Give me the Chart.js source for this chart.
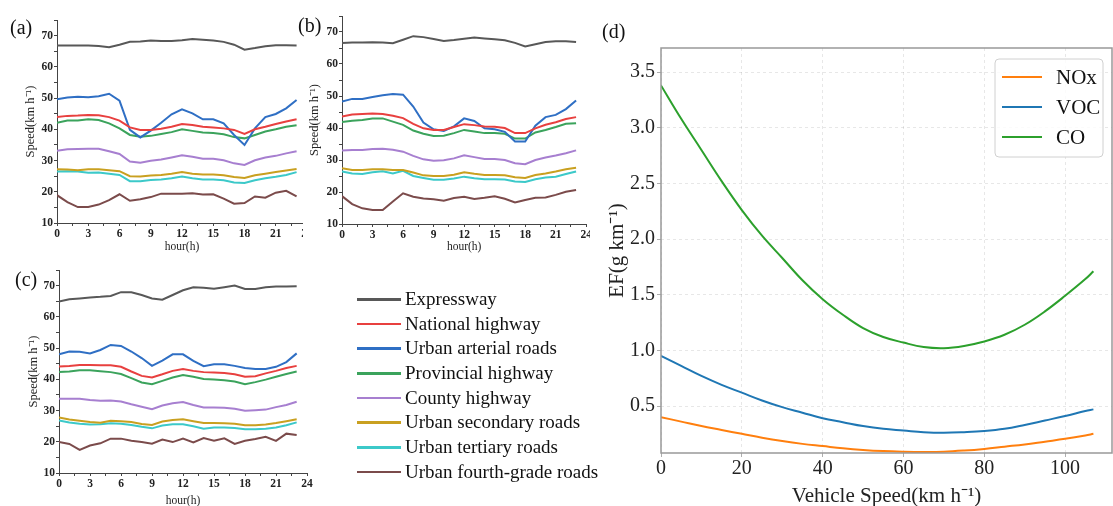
<!DOCTYPE html>
<html>
<head>
<meta charset="utf-8">
<script src="https://cdn.jsdelivr.net/npm/chart.js@4.4.1/dist/chart.umd.min.js"></script>
<style>
  body { margin: 0; background: #fff; width: 1113px; height: 506px; position: relative; overflow: hidden; font-family: 'Liberation Serif', 'Times New Roman', serif; }
  canvas { position: absolute; background: #fff; }
  .tag { position: absolute; font-size: 20px; color: #111; line-height: 20px; z-index: 5; }
  .leg { position: absolute; left: 357px; top: 287px; z-index: 5; }
  .leg div { position: relative; height: 24.7px; font-size: 19px; color: #111; line-height: 24px; padding-left: 48px; white-space: nowrap; }
  .leg span { position: absolute; left: 0; top: 11px; width: 44px; height: 2.5px; }
</style>
</head>
<body>
<canvas id="chartA" width="320" height="262" style="left:0;top:0"></canvas>
<canvas id="chartB" width="290" height="262" style="left:303px;top:0"></canvas>
<canvas id="chartC" width="320" height="244" style="left:0;top:262px"></canvas>
<canvas id="chartD" width="523" height="506" style="left:590px;top:0"></canvas>
<div class="tag" style="left:10px;top:17px">(a)</div>
<div class="tag" style="left:298px;top:15px">(b)</div>
<div class="tag" style="left:15px;top:269px">(c)</div>
<div class="tag" style="left:602px;top:21px">(d)</div>
<div class="leg" id="roadLegend"></div>
<script>
const hours = [0, 1, 2, 3, 4, 5, 6, 7, 8, 9, 10, 11, 12, 13, 14, 15, 16, 17, 18, 19, 20, 21, 22, 23];

const roadNames = ['Expressway', 'National highway', 'Urban arterial roads', 'Provincial highway',
  'County highway', 'Urban secondary roads', 'Urban tertiary roads', 'Urban fourth-grade roads'];
const roadColors = ['#585858', '#e8403f', '#2f6fc4', '#3ba35c', '#a77fd0', '#c9a020', '#3cc9c9', '#7b4b4b'];

// panel (a)
const speedA = [
  [66.8, 66.8, 66.8, 66.8, 66.7, 66.3, 67.1, 68.0, 68.1, 68.4, 68.3, 68.3, 68.5, 68.9, 68.7, 68.4, 68.0, 67.1, 65.5, 66.0, 66.6, 66.9, 66.9, 66.8],
  [43.9, 44.3, 44.4, 44.6, 44.5, 43.9, 42.8, 40.6, 39.8, 39.8, 40.2, 40.8, 41.7, 41.4, 40.8, 40.6, 40.3, 39.8, 38.5, 40.0, 40.8, 41.7, 42.5, 43.2],
  [49.6, 50.2, 50.4, 50.3, 50.6, 51.4, 49.2, 39.8, 37.4, 39.6, 42.1, 44.8, 46.4, 45.1, 43.2, 43.2, 41.9, 38.2, 35.0, 40.3, 43.9, 44.9, 46.7, 49.4],
  [42.1, 42.8, 42.8, 43.2, 43.0, 41.9, 40.3, 38.2, 37.6, 37.9, 38.5, 39.1, 40.0, 39.5, 39.0, 38.8, 38.4, 37.5, 37.1, 38.2, 39.3, 40.0, 40.8, 41.3],
  [33.1, 33.6, 33.7, 33.8, 33.8, 33.0, 32.1, 29.7, 29.3, 29.9, 30.3, 31.0, 31.7, 31.2, 30.6, 30.6, 30.1, 29.1, 28.6, 30.1, 31.0, 31.5, 32.3, 33.0],
  [27.2, 27.1, 26.9, 27.2, 27.2, 26.9, 26.6, 25.0, 24.9, 25.2, 25.4, 25.8, 26.3, 25.8, 25.5, 25.5, 25.3, 24.7, 24.4, 25.3, 25.8, 26.3, 26.8, 27.3],
  [26.5, 26.6, 26.5, 26.1, 26.2, 25.8, 25.4, 23.4, 23.4, 23.8, 23.9, 24.3, 24.9, 24.3, 23.9, 23.9, 23.7, 23.0, 22.8, 23.7, 24.3, 24.8, 25.4, 26.3],
  [18.9, 16.7, 15.1, 15.1, 15.9, 17.3, 19.2, 17.1, 17.6, 18.3, 19.4, 19.4, 19.4, 19.5, 19.1, 19.2, 17.8, 16.2, 16.4, 18.5, 18.1, 19.7, 20.3, 18.5]
];

// panel (b)
const speedB = [
  [66.6, 66.7, 66.7, 66.8, 66.7, 66.5, 67.6, 68.7, 68.4, 67.8, 67.2, 67.5, 67.9, 68.3, 68.0, 67.7, 67.4, 66.6, 65.5, 66.2, 66.9, 67.1, 67.1, 66.9],
  [43.6, 44.2, 44.4, 44.5, 44.4, 43.8, 43.1, 41.3, 39.9, 39.4, 39.4, 40.3, 41.2, 40.9, 40.5, 40.4, 40.0, 38.4, 38.4, 39.9, 41.0, 41.8, 42.8, 43.4],
  [48.3, 49.1, 49.1, 49.7, 50.2, 50.6, 50.4, 46.7, 41.7, 39.6, 39.1, 40.5, 43.0, 42.2, 39.9, 39.6, 38.8, 35.8, 35.8, 40.7, 43.4, 44.1, 45.9, 48.6],
  [41.9, 42.3, 42.5, 43.0, 43.0, 42.0, 41.0, 39.2, 38.2, 37.5, 37.6, 38.4, 39.4, 38.9, 38.4, 38.4, 38.2, 36.7, 36.7, 38.6, 39.4, 40.3, 41.3, 41.5],
  [33.0, 33.1, 33.1, 33.4, 33.5, 33.2, 32.6, 31.3, 30.2, 29.8, 29.9, 30.5, 31.5, 30.9, 30.3, 30.3, 30.0, 29.0, 28.7, 30.0, 30.8, 31.4, 32.1, 33.0],
  [27.4, 26.9, 26.9, 27.1, 27.1, 26.9, 26.9, 26.1, 25.2, 25.0, 25.0, 25.4, 26.2, 25.7, 25.3, 25.3, 25.2, 24.6, 24.4, 25.3, 25.8, 26.4, 27.1, 27.6],
  [26.4, 25.8, 25.6, 26.2, 26.5, 25.8, 26.6, 25.0, 24.4, 23.8, 23.8, 24.2, 24.8, 24.3, 24.0, 24.0, 23.9, 23.3, 23.1, 24.0, 24.5, 24.8, 25.6, 26.4],
  [18.7, 16.2, 14.9, 14.4, 14.4, 17.0, 19.6, 18.5, 18.0, 17.7, 17.3, 18.1, 18.5, 17.8, 18.2, 18.7, 17.9, 16.7, 17.5, 18.2, 18.3, 19.1, 20.1, 20.6]
];

// panel (c)
const speedC = [
  [64.9, 65.6, 65.9, 66.2, 66.4, 66.7, 67.9, 67.9, 67.0, 65.9, 65.5, 67.0, 68.5, 69.5, 69.3, 69.0, 69.5, 70.0, 68.9, 68.9, 69.5, 69.7, 69.7, 69.8],
  [44.1, 44.3, 44.6, 44.6, 44.5, 44.5, 44.0, 42.5, 41.1, 40.6, 41.6, 42.7, 43.3, 42.7, 42.3, 42.2, 42.0, 41.6, 40.8, 41.0, 41.9, 42.7, 43.6, 44.3],
  [48.0, 48.9, 48.8, 48.3, 49.4, 51.0, 50.7, 48.9, 46.8, 44.3, 46.0, 48.0, 48.0, 45.9, 44.2, 44.8, 44.8, 44.3, 43.6, 43.3, 43.3, 44.0, 45.5, 48.3],
  [42.3, 42.5, 42.9, 42.9, 42.6, 42.3, 41.7, 40.4, 39.0, 38.4, 39.5, 40.6, 41.4, 40.8, 40.1, 39.9, 39.7, 39.3, 38.4, 39.1, 39.9, 40.8, 41.7, 42.5],
  [33.8, 33.8, 33.8, 33.4, 33.1, 33.2, 32.9, 32.0, 31.2, 30.4, 31.6, 32.3, 32.7, 31.8, 31.0, 31.0, 30.9, 30.6, 29.9, 30.1, 30.3, 31.1, 31.8, 32.8],
  [27.8, 27.1, 26.7, 26.3, 26.1, 26.7, 26.6, 26.3, 25.7, 25.4, 26.5, 27.0, 27.2, 26.6, 26.0, 26.0, 25.9, 25.8, 25.3, 25.3, 25.5, 26.0, 26.6, 27.2],
  [26.8, 26.2, 25.8, 25.5, 25.6, 25.9, 25.8, 25.4, 24.8, 24.3, 25.2, 25.6, 25.6, 25.0, 24.2, 24.6, 24.6, 24.4, 24.0, 24.0, 24.2, 24.6, 25.3, 26.2],
  [19.9, 19.3, 17.4, 18.8, 19.5, 21.0, 21.0, 20.3, 19.9, 19.4, 20.7, 19.9, 21.0, 19.8, 21.2, 20.3, 21.1, 19.3, 20.3, 20.9, 21.6, 20.3, 22.6, 22.2]
];

// panel (d)
const vehicleSpeed = [0, 5, 10, 15, 20, 25, 30, 35, 40, 45, 50, 55, 60, 65, 70, 75, 80, 85, 90, 95, 100, 105, 107];
const efNOx = [0.40, 0.36, 0.32, 0.285, 0.25, 0.215, 0.185, 0.16, 0.14, 0.12, 0.105, 0.095, 0.09, 0.088, 0.09, 0.10, 0.115, 0.135, 0.155, 0.18, 0.205, 0.235, 0.25];
const efVOC = [0.95, 0.86, 0.77, 0.69, 0.62, 0.55, 0.49, 0.44, 0.39, 0.355, 0.32, 0.295, 0.28, 0.265, 0.26, 0.265, 0.275, 0.295, 0.33, 0.37, 0.41, 0.455, 0.47];
const efCO = [3.38, 3.08, 2.80, 2.52, 2.26, 2.03, 1.83, 1.63, 1.46, 1.32, 1.20, 1.12, 1.07, 1.03, 1.02, 1.04, 1.08, 1.14, 1.23, 1.35, 1.49, 1.64, 1.71];

const serif = "'Liberation Serif', 'Times New Roman', serif";
const axisColor = '#444';

function roadDatasets(panel) {
  return panel.map((vals, i) => ({
    label: roadNames[i],
    data: hours.map((h, j) => ({ x: h, y: vals[j] })),
    borderColor: roadColors[i],
    backgroundColor: roadColors[i],
    borderWidth: 2,
    pointRadius: 0,
    tension: 0
  }));
}

function speedOptions(pad, yWidth, xHeight, yTitlePad, xTitlePad) {
  const tickFont = { family: serif, size: 11.5, weight: 'bold' };
  return {
    responsive: false,
    animation: false,
    layout: { padding: pad },
    plugins: { legend: { display: false }, tooltip: { enabled: false } },
    scales: {
      x: {
        type: 'linear', min: 0, max: 24,
        afterFit: (s) => { s.height = xHeight; },
        ticks: { stepSize: 1.5, autoSkip: false, maxRotation: 0, padding: 1, font: tickFont, color: '#222',
          callback: (v) => (v % 3 === 0 ? v : '') },
        grid: { drawOnChartArea: false, tickLength: 3, color: axisColor },
        border: { color: axisColor, width: 1 },
        title: { display: true, text: 'hour(h)', font: { family: serif, size: 11.5 }, color: '#222', padding: { top: 0, bottom: xTitlePad } }
      },
      y: {
        min: 10, max: 75,
        afterFit: (s) => { s.width = yWidth; },
        ticks: { stepSize: 5, autoSkip: false, padding: 1, font: tickFont, color: '#222',
          callback: (v) => (v % 10 === 0 ? v : '') },
        grid: { drawOnChartArea: false, tickLength: 3, color: axisColor },
        border: { color: axisColor, width: 1 },
        title: { display: true, text: 'Speed(km h⁻¹)', font: { family: serif, size: 12.5 }, color: '#222', padding: { top: yTitlePad, bottom: 0 } }
      }
    }
  };
}

new Chart('chartA', { type: 'line', data: { datasets: roadDatasets(speedA) },
  options: speedOptions({ left: 0, top: 20, right: 13, bottom: 0 }, 57, 39, 23, 8) });
new Chart('chartB', { type: 'line', data: { datasets: roadDatasets(speedB) },
  options: speedOptions({ left: 0, top: 16, right: 6, bottom: 0 }, 39, 38, 4, 8) });
new Chart('chartC', { type: 'line', data: { datasets: roadDatasets(speedC) },
  options: speedOptions({ left: 0, top: 8, right: 13, bottom: 0 }, 59, 33, 26, -2) });

// shared legend for (a)-(c)
const legendEl = document.getElementById('roadLegend');
roadNames.forEach((name, i) => {
  const row = document.createElement('div');
  row.innerHTML = '<span style="background:' + roadColors[i] + '"></span>' + name;
  legendEl.appendChild(row);
});

// frame + boxed legend for (d)
const frameAndLegend = {
  id: 'frameAndLegend',
  afterDraw(chart) {
    const { ctx, chartArea } = chart;
    ctx.save();
    ctx.strokeStyle = '#999';
    ctx.lineWidth = 1.5;
    ctx.strokeRect(chartArea.left, chartArea.top, chartArea.right - chartArea.left, chartArea.bottom - chartArea.top);

    const bx = 405, by = 59, bw = 108, bh = 98, r = 4;
    ctx.fillStyle = 'rgba(255,255,255,0.8)';
    ctx.strokeStyle = '#d0d0d0';
    ctx.lineWidth = 1;
    ctx.beginPath();
    ctx.roundRect(bx, by, bw, bh, r);
    ctx.fill();
    ctx.stroke();

    ctx.font = '21px ' + serif;
    ctx.textBaseline = 'middle';
    chart.data.datasets.forEach((ds, i) => {
      const y = by + 18 + i * 30;
      ctx.strokeStyle = ds.borderColor;
      ctx.lineWidth = 2;
      ctx.beginPath();
      ctx.moveTo(bx + 7, y);
      ctx.lineTo(bx + 47, y);
      ctx.stroke();
      ctx.fillStyle = '#111';
      ctx.fillText(ds.label, bx + 61, y + 1);
    });
    ctx.restore();
  }
};

function efSeries(vals) {
  return vehicleSpeed.map((v, i) => ({ x: v, y: vals[i] }));
}

const dFont = { family: serif, size: 20 };
new Chart('chartD', {
  type: 'line',
  data: {
    datasets: [
      { label: 'NOx', data: efSeries(efNOx), borderColor: '#ff7f0e' },
      { label: 'VOC', data: efSeries(efVOC), borderColor: '#1f77b4' },
      { label: 'CO', data: efSeries(efCO), borderColor: '#2ca02c' }
    ]
  },
  options: {
    responsive: false,
    animation: false,
    layout: { padding: { left: 0, top: 48, right: 1, bottom: 0 } },
    elements: { point: { radius: 0 }, line: { borderWidth: 2, tension: 0.4 } },
    plugins: { legend: { display: false }, tooltip: { enabled: false } },
    scales: {
      x: {
        type: 'linear', min: 0, max: 111.6,
        afterFit: (s) => { s.height = 53; },
        ticks: { stepSize: 20, includeBounds: false, maxRotation: 0, padding: 0, font: dFont, color: '#222' },
        grid: { color: 'rgba(0,0,0,0.12)', lineWidth: 0.8, tickLength: 4, tickColor: '#999' },
        border: { display: false, dash: [3, 3] },
        title: { display: true, text: 'Vehicle Speed(km h⁻¹)', font: { family: serif, size: 21 }, color: '#222', padding: { top: 0, bottom: -3 } }
      },
      y: {
        min: 0.078, max: 3.716,
        afterFit: (s) => { s.width = 71; },
        ticks: { stepSize: 0.5, includeBounds: false, padding: 2, font: dFont, color: '#222',
          callback: (v) => v.toFixed(1) },
        grid: { color: 'rgba(0,0,0,0.12)', lineWidth: 0.8, tickLength: 4, tickColor: '#999' },
        border: { display: false, dash: [3, 3] },
        title: { display: true, text: 'EF(g km⁻¹)', font: { family: serif, size: 21 }, color: '#222', padding: { top: 15, bottom: 0 } }
      }
    }
  },
  plugins: [frameAndLegend]
});
</script>
</body>
</html>
